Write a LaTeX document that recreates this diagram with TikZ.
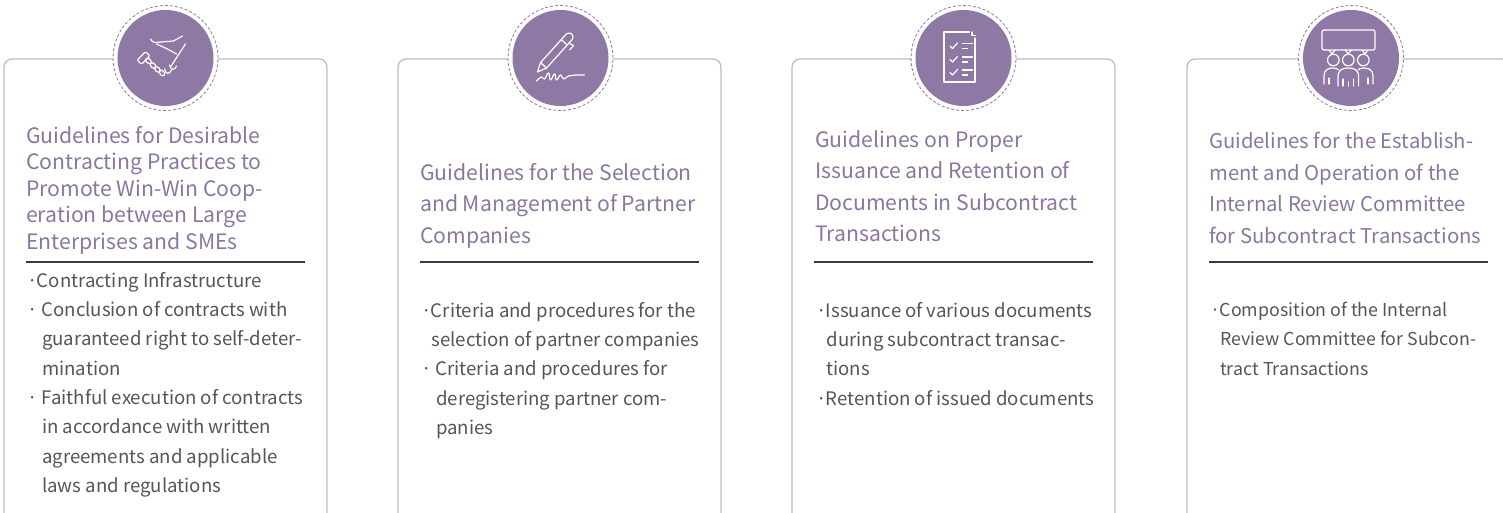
\documentclass[tikz,border=0pt]{standalone}
\usepackage{fontspec}
\setmainfont{Noto Sans CJK KR}
\usepackage{tikz}

\definecolor{badgepurple}{HTML}{8E78A4}
\definecolor{headpurple}{HTML}{8B75A1}
\definecolor{bodygray}{HTML}{555555}
\definecolor{framegray}{HTML}{BDBDBD}
\definecolor{rulegray}{HTML}{3A3A3A}

\begin{document}
\begin{tikzpicture}[x=1pt, y=-1pt,
  card/.style={draw=framegray, line width=1.3pt, rounded corners=8pt},
  ring/.style={circle, draw=badgepurple, fill=white, line width=0.8pt,
    dash pattern=on 3pt off 2pt, minimum size=105pt, inner sep=0pt},
  badge/.style={circle, fill=badgepurple, minimum size=96pt, inner sep=0pt},
  icon/.style={draw=white, line width=1.2pt, line cap=round, line join=round},
  heading/.style={anchor=north west, inner sep=0pt, align=left,
    text=headpurple, font=\fontsize{21.2}{#1}\selectfont},
  heading/.default=31.5,
  points/.style={anchor=north west, inner sep=0pt, align=left,
    text=bodygray, font=\fontsize{#1}{29.3}\selectfont},
  points/.default=18.6,
  titlerule/.style={draw=rulegray, line width=1.2pt}]
\def \w {323} % card width
\def \cardtop {59}
\def \mk {\hspace*{-0.2em}·\hspace{-0.05em}}
\def \mkk {\hspace*{-0.2em}·\hspace{0.2em}}
\def \hang {\hspace*{0.34em}}
\def \hangg {\hspace*{0.59em}}

\useasboundingbox (0,0) rectangle (1503,513);
\clip (0,0) rectangle (1503,513);

\foreach \x/\cx [count=\i] in {4/165.5, 398/560.5, 792/963.5, 1187/1351}
{
  \draw[card] (\x,530) -- (\x,\cardtop) -- (\x+\w,\cardtop) -- (\x+\w,530);
  \node[ring] (ring\i) at (\cx,58) {};
  \node[badge] (badge\i) at (\cx,58) {};
  \draw[titlerule] (\x+22,262) -- (\x+\w-22,262);
}

% handshake
\begin{scope}[shift={(badge1.center)}]
  \draw[icon] (-15,-19) .. controls (-13,-16) .. (-10,-15.5) -- (8,-17) -- (17,-22);
  \draw[icon] (20,-14) -- (5,9);
  \draw[icon] (-9,-14) -- (2,-9) -- (11,-4);
  \draw[icon, rounded corners=1pt] (-15.7,-2.1) -- (-19.9,-6.3) -- (-28.3,2.1)
    -- (-24.1,6.3) -- cycle;
  \foreach \p in {(-17,3),(-12.5,7.5),(-8,11.5),(-3.5,15)}
    \draw[icon, rotate around={-45:\p}] \p ellipse (3.2 and 2.2);
  \draw[icon] (-1,11) .. controls (0,16) and (4,17) .. (6,12);
  \draw[icon] (4,7) .. controls (5,12) and (9,13) .. (11,8);
\end{scope}

% pen
\begin{scope}[shift={(badge2.center)}]
  \draw[icon] (-23,14) -- (-14,10) -- (12,-18.8)
    .. controls (14,-23) and (10,-26.5) .. (6,-24.2) -- (-20,4.6) -- cycle;
  \draw[icon] (-14,10) -- (-20,4.6);
  \draw[icon] (6.8,-12.9) -- (0.8,-18.3);
  \draw[icon] (8,-15) -- (13,-12.5) -- (9,-8);
  \draw[icon] plot[smooth, tension=0.8] coordinates {(-24,23) (-19,19) (-16,21)
    (-12,15) (-10,22) (-6,16) (-4,22) (0,17) (3,21) (8,18) (15,17) (24,17)};
\end{scope}

% document
\begin{scope}[shift={(badge3.center)}]
  \draw[icon] (6,-26) -- (-19.5,-26) -- (-19.5,24) -- (11.5,24) -- (11.5,-20);
  \draw[icon] (8.5,-26) -- (8.5,-22.5) -- (12,-22.5);
  \foreach \y in {-14.5,-1,12}
  {
    \draw[icon] (-13.5,\y+2.5) -- (-11,\y+5) -- (-6,\y-0.5);
    \draw[icon] (-1,\y) -- (9,\y);
    \draw[icon] (-1,\y+5) -- (4,\y+5);
  }
\end{scope}

% committee
\begin{scope}[shift={(badge4.center)}]
  \draw[icon, rounded corners=2pt] (-29,-28) rectangle (24,-8);
  \foreach \t in {-19,-2.7,14}
    \draw[icon] (\t-3,-8) -- (\t,-4) -- (\t+3,-8);
  \foreach \h in {-17.7,-2.7,12.3}
    \draw[icon] (\h,2) circle (5.8);
  \draw[icon] (-13,28) -- (-13,19) .. controls (-13,12) and (-9,10) .. (-2.7,10)
    .. controls (3.6,10) and (7.6,12) .. (7.6,19) -- (7.6,28);
  \draw[icon] (-8,21) -- (-8,28) (2.6,21) -- (2.6,28) (-2.7,24) -- (-2.7,28);
  \draw[icon] (-27,26) -- (-27,18) .. controls (-27,12) and (-23,10) .. (-17.7,10)
    .. controls (-15,10) and (-13.5,11) .. (-12.5,12);
  \draw[icon] (22,26) -- (22,18) .. controls (22,12) and (18,10) .. (12.3,10)
    .. controls (9.5,10) and (8,11) .. (7,12);
  \draw[icon] (-22,20) -- (-22,26) (17,20) -- (17,26);
\end{scope}

\node[heading=26.5] (head1) at (26,126)
  {Guidelines for Desirable\\Contracting Practices to\\Promote Win-Win Coop-\\eration between Large\\Enterprises and SMEs};
\node[heading] (head2) at (420,163)
  {Guidelines for the Selection\\and Management of Partner\\Companies};
\node[heading] (head3) at (815,130)
  {Guidelines on Proper\\Issuance and Retention of\\Documents in Subcontract\\Transactions};
\node[heading, font=\fontsize{20.3}{31.5}\selectfont] (head4) at (1209,132)
  {Guidelines for the Establish-\\ment and Operation of the\\Internal Review Committee\\for Subcontract Transactions};

\node[points] (list1) at (31,272)
  {\mk Contracting Infrastructure\\
   \mkk Conclusion of contracts with\\
   \hangg guaranteed right to self-deter-\\
   \hangg mination\\
   \mkk Faithful execution of contracts\\
   \hangg in accordance with written\\
   \hangg agreements and applicable\\
   \hangg laws and regulations};
\node[points] (list2) at (425,302)
  {\mk Criteria and procedures for the\\
   \hang selection of partner companies\\
   \mkk Criteria and procedures for\\
   \hangg deregistering partner com-\\
   \hangg panies};
\node[points] (list3) at (820,302)
  {\mk Issuance of various documents\\
   \hang during subcontract transac-\\
   \hang tions\\
   \mk Retention of issued documents};
\node[points=17.8] (list4) at (1214,302)
  {\mk Composition of the Internal\\
   \hang Review Committee for Subcon-\\
   \hang tract Transactions};
\end{tikzpicture}
\end{document}
